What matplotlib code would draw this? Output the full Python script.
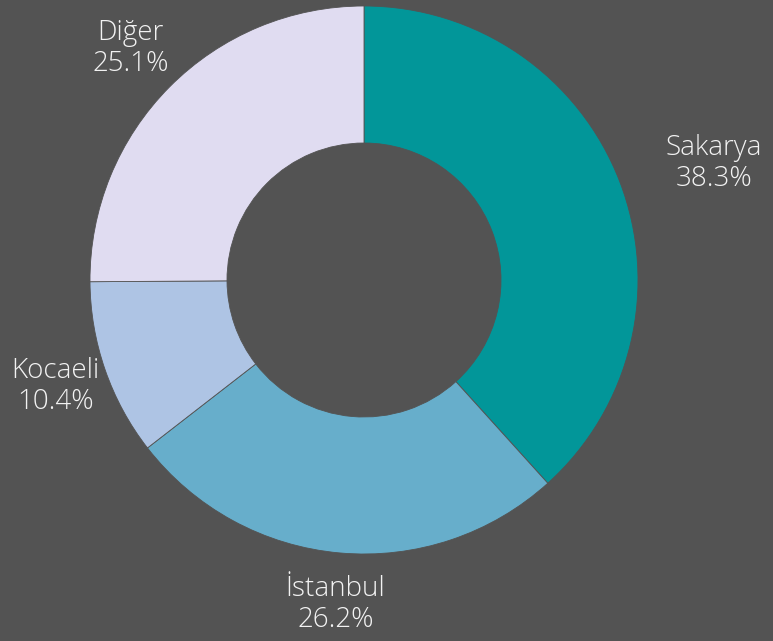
import numpy as np
import matplotlib.pyplot as plt

labels = ['Sakarya', 'İstanbul', 'Kocaeli', 'Diğer']
values = [38.3, 26.2, 10.4, 25.1]
colors = ['#029699', '#67aecb', '#aec4e4', '#e0dcf1']
label_dist = [1.18, 1.19, 1.19, 1.20]
label_ha = ['left', 'center', 'center', 'center']

bg = '#535353'
plt.rcParams['font.family'] = ['Open Sans', 'DejaVu Sans']

fig = plt.figure(figsize=(7.73, 6.41), dpi=100, facecolor=bg)
ax = fig.add_axes([0, 0, 1, 1])
ax.set_facecolor(bg)

wedges, _ = ax.pie(values, colors=colors, startangle=90, counterclock=False,
                   wedgeprops=dict(width=0.5, edgecolor=bg, linewidth=0.6))

total = sum(values)
for w, lab, v, d, ha in zip(wedges, labels, values, label_dist, label_ha):
    mid = np.deg2rad((w.theta1 + w.theta2) / 2)
    ax.text(d * np.cos(mid), d * np.sin(mid), f'{lab}\n{v / total * 100:.1f}%',
            ha=ha, va='center', multialignment='center', color='#f2f2f2',
            fontsize=20, fontweight='light', linespacing=1.15)

# pie centre at (364, 280) px, radius 274 px
ax.set_xlim(-364 / 274, (773 - 364) / 274)
ax.set_ylim(-(641 - 280) / 274, 280 / 274)
ax.set_aspect('auto')
ax.axis('off')

fig.savefig('out.png', dpi=100, facecolor=bg)
